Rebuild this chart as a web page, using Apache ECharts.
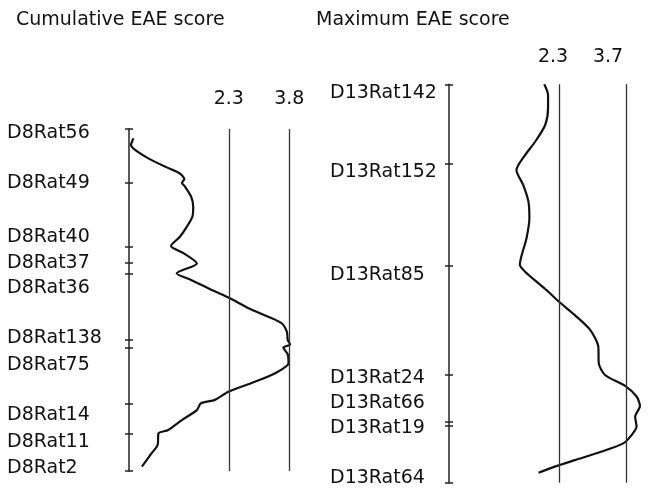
<!DOCTYPE html>
<html><head><meta charset="utf-8">
<script src="https://cdn.jsdelivr.net/npm/echarts@6/dist/echarts.min.js"></script>
<style>html,body{margin:0;padding:0;background:#fff}#c{width:649px;height:491px}</style>
</head><body><div id="c"></div>
<script>
// ---- Chromosome 8 : Cumulative EAE score ----
const d8Markers = ['D8Rat56','D8Rat49','D8Rat40','D8Rat37','D8Rat36','D8Rat138','D8Rat75','D8Rat14','D8Rat11','D8Rat2'];
const d8MarkerCM = [0, 15.6, 34.5, 39.2, 42.4, 61.7, 63.9, 80.2, 89.2, 100];
const d8LabelCM = [1.3, 15.8, 31.6, 39.1, 46.4, 61.2, 69.0, 83.6, 91.4, 99.2];
const d8CurveCM = [2.7, 4.7, 6.1, 8.6, 11.0, 13.0, 14.7, 15.7, 16.9, 19.8, 22.7, 25.6, 28.6, 31.5, 34.2, 36.3, 39.3, 42.2, 44.2, 47.1, 49.5, 52.4, 54.9, 56.8, 59.3, 61.7, 63.0, 63.9, 65.9, 68.5, 71.4, 73.9, 76.8, 79.2, 80.2, 82.2, 85.1, 88.0, 89.0, 92.4, 94.8, 98.7];
const d8CurveLod = [-0.06, -0.12, -0.02, 0.31, 0.72, 1.09, 1.20, 1.14, 1.22, 1.37, 1.42, 1.40, 1.26, 1.09, 0.87, 1.18, 1.51, 1.01, 1.38, 1.88, 2.33, 2.79, 3.28, 3.61, 3.74, 3.76, 3.82, 3.65, 3.76, 3.78, 3.45, 2.95, 2.29, 1.96, 1.61, 1.51, 1.14, 0.80, 0.56, 0.54, 0.39, 0.15];
const d8Thresholds = [2.3, 3.8];

// ---- Chromosome 13 : Maximum EAE score ----
const d13Markers = ['D13Rat142','D13Rat152','D13Rat85','D13Rat24','D13Rat66','D13Rat19','D13Rat64'];
const d13MarkerCM = [0, 23.1, 53.1, 84.9, 98.7, 99.8, 116.5];
const d13LabelCM = [2.6, 25.6, 55.8, 86.0, 93.3, 100.6, 115.2];
const d13CurveCM = [0, 3.1, 7.0, 11.9, 16.8, 20.7, 25.1, 29.4, 34.3, 39.2, 45.0, 52.8, 54.8, 58.2, 60.6, 63.6, 67.5, 71.8, 76.7, 81.6, 85.0, 88.2, 91.3, 94.1, 97.2, 100.1, 102.5, 105.0, 107.4, 109.9, 111.8, 113.6];
const d13CurveLod = [1.99, 2.07, 2.07, 2.01, 1.80, 1.59, 1.41, 1.55, 1.66, 1.68, 1.62, 1.48, 1.59, 1.87, 2.07, 2.30, 2.63, 2.95, 3.12, 3.13, 3.26, 3.68, 3.92, 3.99, 3.89, 3.92, 3.82, 3.64, 3.19, 2.63, 2.21, 1.87];
const d13Thresholds = [2.3, 3.7];

const titles = ['Cumulative EAE score', 'Maximum EAE score'];

const FONT = 'DejaVu Sans, Verdana, sans-serif';
const FS = 19;
const TXT = '#111';

const panels = [
  {names: d8Markers, markerCM: d8MarkerCM, labelCM: d8LabelCM, cm: d8CurveCM, lod: d8CurveLod, thr: d8Thresholds,
   cmMax: 100, lodMin: -0.17, lodMax: 3.99,
   grid: {left: 129, top: 129, width: 168, height: 342}, labelMargin: 122, thrMargin: 20, thrShift: [0, 0]},
  {names: d13Markers, markerCM: d13MarkerCM, labelCM: d13LabelCM, cm: d13CurveCM, lod: d13CurveLod, thr: d13Thresholds,
   cmMax: 116.5, lodMin: 0, lodMax: 4.1,
   grid: {left: 449, top: 84.3, width: 196.2, height: 398.4}, labelMargin: 119, thrMargin: 18, thrShift: [12, 36]}
];

const grid = [], xAxis = [], yAxis = [], series = [];
panels.forEach((p, i) => {
  grid.push(Object.assign({containLabel: false}, p.grid));
  const rich = {};
  p.thr.forEach((t, k) => {
    rich['t' + k] = {fontFamily: FONT, fontSize: FS, color: TXT, padding: [0, p.thrShift[k], 0, 0]};
  });
  xAxis.push({
    type: 'value', gridIndex: i, position: 'top', min: p.lodMin, max: p.lodMax,
    axisLine: {show: false, onZero: false}, axisTick: {show: false}, splitLine: {show: false},
    axisLabel: {
      show: true, customValues: p.thr, margin: p.thrMargin,
      fontFamily: FONT, fontSize: FS, color: TXT,
      formatter: v => '{t' + p.thr.indexOf(v) + '|' + v + '}',
      rich: rich
    }
  });
  // main axis: line, outer ticks, marker labels
  yAxis.push({
    type: 'value', gridIndex: i, inverse: true, min: 0, max: p.cmMax, position: 'left',
    axisLine: {show: true, onZero: false, lineStyle: {color: '#222', width: 1.5}},
    axisTick: {show: true, customValues: p.markerCM, length: 4, inside: false, lineStyle: {color: '#222', width: 1.5}},
    axisLabel: {
      show: true, customValues: p.labelCM, align: 'left', margin: p.labelMargin,
      fontFamily: FONT, fontSize: FS, color: TXT,
      formatter: v => p.names[p.labelCM.indexOf(v)]
    },
    splitLine: {show: false}
  });
  // companion axis: inner half of marker ticks
  yAxis.push({
    type: 'value', gridIndex: i, inverse: true, min: 0, max: p.cmMax, position: 'left',
    axisLine: {show: false, onZero: false},
    axisTick: {show: true, customValues: p.markerCM, length: 4, inside: true, lineStyle: {color: '#222', width: 1.5}},
    axisLabel: {show: false}, splitLine: {show: false}
  });
  series.push({
    type: 'line', xAxisIndex: i, yAxisIndex: i * 2,
    data: p.cm.map((c, k) => [p.lod[k], c]),
    showSymbol: false, smooth: 0.25,
    lineStyle: {color: '#111', width: 2.2},
    silent: true,
    markLine: {
      silent: true, symbol: 'none', label: {show: false},
      lineStyle: {color: '#333', width: 1.3, type: 'solid'},
      emphasis: {disabled: true},
      data: p.thr.map(t => [{coord: [t, 0]}, {coord: [t, p.cmMax]}])
    }
  });
});

const chart = echarts.init(document.getElementById('c'), null, {renderer: 'canvas'});
chart.setOption({
  animation: false,
  backgroundColor: '#fff',
  title: [
    {text: titles[0], left: 16, top: 10, padding: 0, textStyle: {fontFamily: FONT, fontSize: FS, fontWeight: 'normal', color: TXT, lineHeight: 20}},
    {text: titles[1], left: 316, top: 10, padding: 0, textStyle: {fontFamily: FONT, fontSize: FS, fontWeight: 'normal', color: TXT, lineHeight: 20}}
  ],
  grid, xAxis, yAxis, series
});
</script>
</body></html>
